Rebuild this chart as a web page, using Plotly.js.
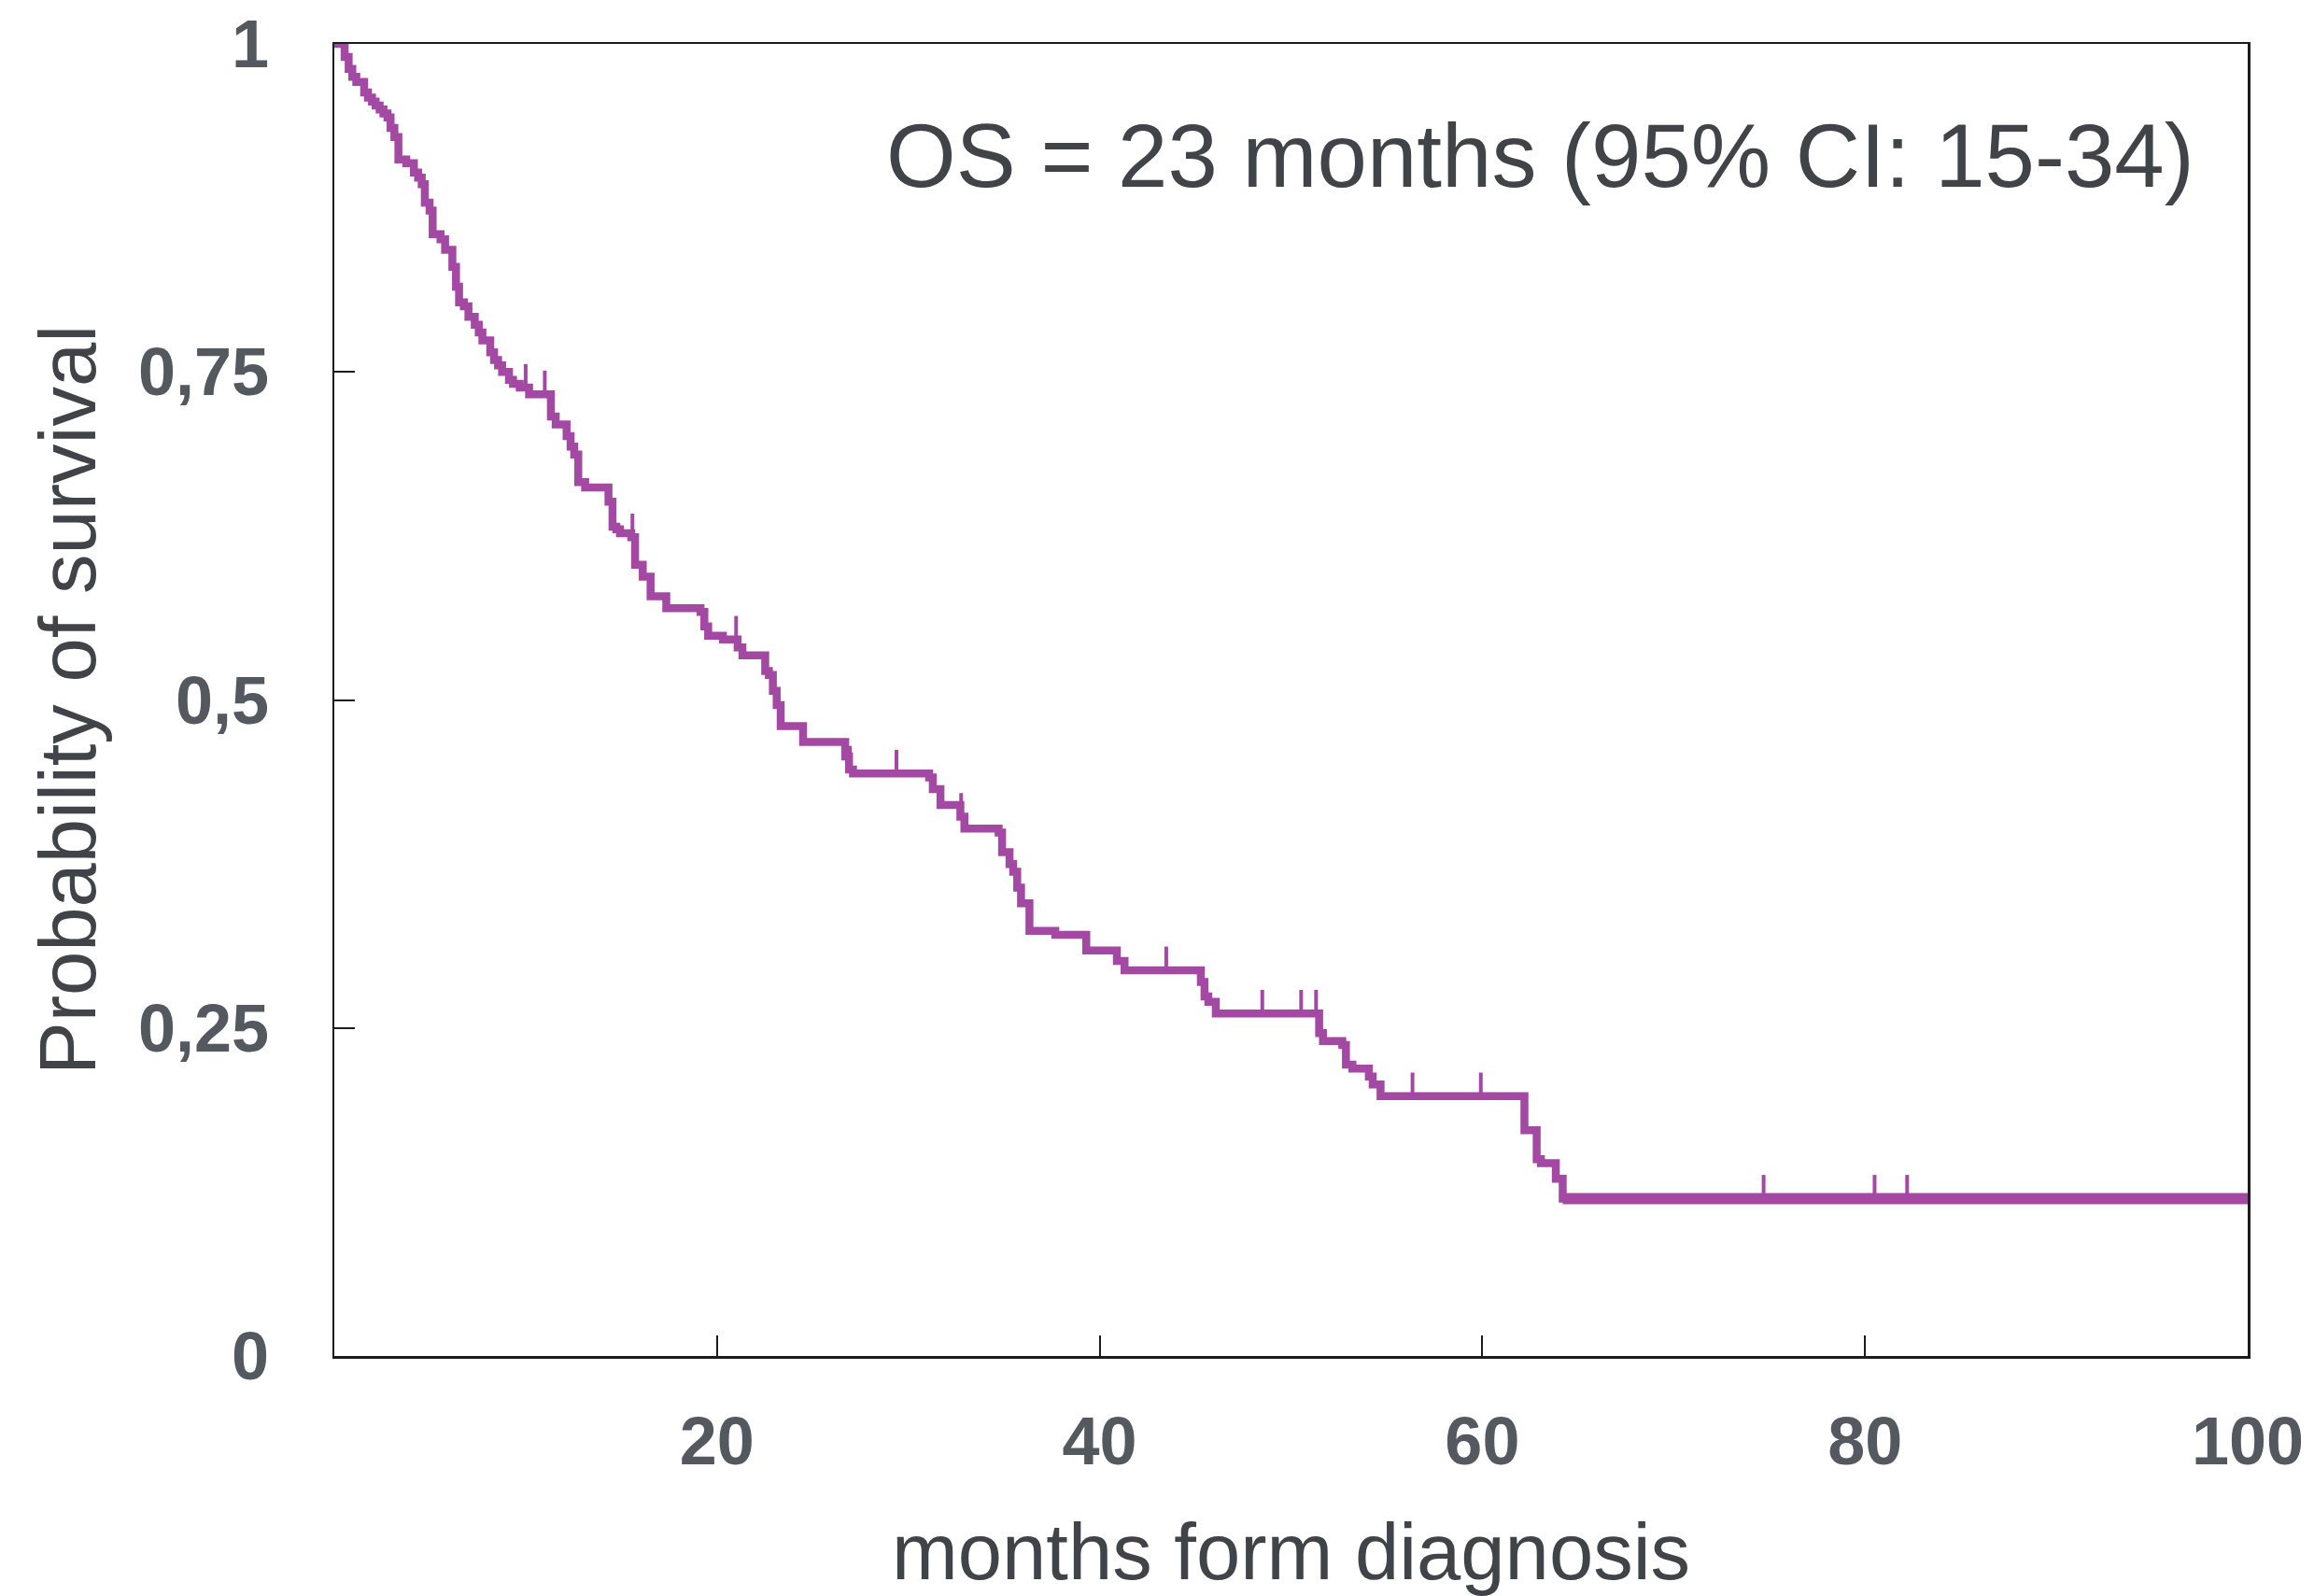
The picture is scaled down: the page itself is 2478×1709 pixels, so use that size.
<!DOCTYPE html>
<html>
<head>
<meta charset="utf-8">
<script src="https://cdn.plot.ly/plotly-3.0.1.min.js"></script>
<style>html,body{margin:0;padding:0;background:#fff;}#chart{width:2478px;height:1709px;}</style>
</head>
<body>
<div id="chart"></div>
<script>
// Kaplan-Meier step data (months, survival level after each drop)
const eventTimes = [0, 0.54, 0.75, 0.94, 1.15, 1.56, 1.76, 1.97, 2.16, 2.37, 2.57, 2.78, 2.94, 3.14, 3.35, 3.76, 4.16, 4.38, 4.57, 4.73, 4.98, 5.14, 5.55, 5.79, 6.17, 6.36, 6.52, 6.77, 7.01, 7.34, 7.55, 7.74, 8.15, 8.35, 8.56, 8.77, 9.13, 9.34, 9.69, 10.18, 11.32, 11.57, 12.14, 12.35, 12.54, 12.75, 13.11, 14.33, 14.54, 14.74, 14.93, 15.52, 15.72, 16.12, 16.53, 17.35, 19.14, 19.34, 19.54, 20.31, 21.08, 21.33, 22.52, 22.71, 22.92, 23.12, 23.33, 24.50, 26.70, 26.90, 27.11, 31.09, 31.28, 31.68, 32.72, 32.93, 34.72, 34.90, 35.29, 35.48, 35.69, 35.89, 36.33, 37.68, 39.30, 40.90, 41.30, 45.29, 45.48, 45.68, 46.07, 51.47, 51.67, 52.68, 52.87, 53.21, 54.07, 54.27, 54.68, 62.20, 62.84, 63.06, 63.84, 64.20];
const survival = [1.0, 0.990, 0.981, 0.975, 0.971, 0.963, 0.959, 0.956, 0.953, 0.950, 0.947, 0.944, 0.936, 0.929, 0.912, 0.909, 0.902, 0.898, 0.893, 0.879, 0.873, 0.855, 0.851, 0.843, 0.830, 0.815, 0.803, 0.800, 0.792, 0.786, 0.780, 0.774, 0.765, 0.759, 0.755, 0.750, 0.744, 0.741, 0.738, 0.733, 0.716, 0.710, 0.701, 0.693, 0.687, 0.666, 0.662, 0.651, 0.632, 0.630, 0.627, 0.624, 0.603, 0.594, 0.579, 0.570, 0.567, 0.556, 0.549, 0.546, 0.540, 0.534, 0.522, 0.519, 0.507, 0.496, 0.480, 0.468, 0.457, 0.447, 0.444, 0.441, 0.432, 0.420, 0.411, 0.402, 0.399, 0.384, 0.375, 0.369, 0.357, 0.345, 0.324, 0.321, 0.309, 0.301, 0.294, 0.285, 0.274, 0.270, 0.261, 0.246, 0.240, 0.237, 0.222, 0.219, 0.213, 0.207, 0.198, 0.172, 0.150, 0.147, 0.135, 0.120];
const followUpEnd = 100;
const censorTimes = [10.0, 11.0, 11.4, 15.58, 21.0, 26.95, 29.38, 32.76, 43.48, 48.5, 50.53, 51.31, 56.35, 59.92, 74.7, 80.5, 82.2];

const xTickVals = [20, 40, 60, 80, 100];
const xTickText = ['20', '40', '60', '80', '100'];
const yTickVals = [0, 0.25, 0.5, 0.75, 1];
const yTickText = ['0', '0,25', '0,5', '0,75', '1'];

const xTitle = 'months form diagnosis';
const yTitle = 'Probability of survival';
const osLabel = 'OS = 23 months (95% CI: 15-34)';

// style constants
const curveColor = '#a349a4';
const tickHeight = 0.018;

function levelAt(t) {
  let lvl = survival[0];
  for (let i = 0; i < eventTimes.length; i++) {
    if (eventTimes[i] <= t) lvl = survival[i]; else break;
  }
  return lvl;
}

const curveX = eventTimes.concat([followUpEnd]);
const curveY = survival.concat([survival[survival.length - 1]]);

const lastT = eventTimes[eventTimes.length - 1];
const lastS = survival[survival.length - 1];

const cx = [], cy = [];
censorTimes.forEach(function (c) {
  const l = levelAt(c);
  cx.push(c, c, null);
  cy.push(l, l + tickHeight, null);
});

const traces = [
  {x: curveX, y: curveY, type: 'scatter', mode: 'lines',
   line: {shape: 'hv', color: curveColor, width: 8.5}, hoverinfo: 'skip'},
  {x: [lastT, followUpEnd], y: [lastS, lastS], type: 'scatter', mode: 'lines',
   line: {color: curveColor, width: 12}, hoverinfo: 'skip'},
  {x: cx, y: cy, type: 'scatter', mode: 'lines',
   line: {color: curveColor, width: 4}, hoverinfo: 'skip'}
];

const tickFont = {family: 'Liberation Sans, Arial, sans-serif', size: 72, color: '#54595f', weight: 'bold'};
const titleFont = {family: 'Liberation Sans, Arial, sans-serif', size: 85, color: '#404449'};

const layout = {
  width: 2478, height: 1709,
  margin: {l: 358, r: 71, t: 47, b: 257},
  paper_bgcolor: '#ffffff', plot_bgcolor: '#ffffff',
  showlegend: false,
  xaxis: {
    range: [0, 100], tickvals: xTickVals, ticktext: xTickText,
    showgrid: false, zeroline: false,
    showline: true, mirror: true, linecolor: '#1c1c1c', linewidth: 2.5,
    ticks: 'inside', ticklen: 22, tickwidth: 2, tickcolor: '#1c1c1c',
    tickfont: tickFont, ticklabelstandoff: 27,
    title: {text: xTitle, font: titleFont, standoff: 75}
  },
  yaxis: {
    range: [0, 1], tickvals: yTickVals, ticktext: yTickText,
    showgrid: false, zeroline: false,
    showline: true, mirror: true, linecolor: '#1c1c1c', linewidth: 2.5,
    ticks: 'inside', ticklen: 22, tickwidth: 2, tickcolor: '#1c1c1c',
    tickfont: tickFont, ticklabelstandoff: 53,
    title: {text: yTitle, font: titleFont, standoff: 17}
  },
  annotations: [{
    xref: 'paper', yref: 'paper', x: 0.973, y: 0.915,
    xanchor: 'right', yanchor: 'middle', showarrow: false,
    text: osLabel,
    font: {family: 'Liberation Sans, Arial, sans-serif', size: 96, color: '#404449'}
  }]
};

Plotly.newPlot('chart', traces, layout, {staticPlot: true, displayModeBar: false});
</script>
</body>
</html>
